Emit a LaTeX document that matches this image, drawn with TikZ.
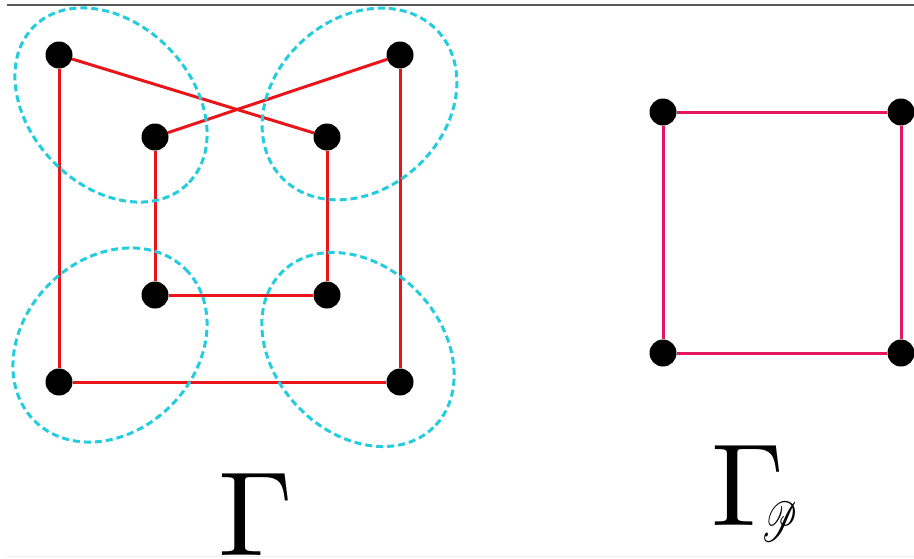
\documentclass[tikz,border=0pt]{standalone}
\usepackage{mathrsfs}
\usepackage{graphicx}
\pgfdeclarelayer{background}
\pgfsetlayers{background,main}
\definecolor{edgered}{RGB}{232,22,26}
\definecolor{ringcyan}{RGB}{35,205,222}
\definecolor{sqpink}{RGB}{226,24,96}
\tikzset{
  vtx/.style={circle,fill=black,inner sep=0pt,minimum size=27pt},
  redge/.style={draw=edgered,line width=3pt},
  pedge/.style={draw=sqpink,line width=3pt},
  ring/.style={draw=ringcyan,line width=3pt,dash pattern=on 7pt off 4pt},
  biglabel/.style={inner sep=0pt,outer sep=0pt}
}
\begin{document}
\begin{tikzpicture}[x=1pt,y=-1pt]
\useasboundingbox (0,0) rectangle (914,558);
% frame line at top
\draw[gray!70!black,line width=1.5pt] (7,5) -- (914,5);
\draw[gray!12,line width=1pt] (7,556) -- (914,556);
% left graph vertices
\node[vtx] (A) at (59,55) {};
\node[vtx] (B) at (400,55) {};
\node[vtx] (C) at (155,137) {};
\node[vtx] (D) at (327,137) {};
\node[vtx] (E) at (155,295) {};
\node[vtx] (F) at (327,295) {};
\node[vtx] (G) at (59,382) {};
\node[vtx] (H) at (400,382) {};
% right square vertices
\node[vtx] (P1) at (663,112) {};
\node[vtx] (P2) at (901,112) {};
\node[vtx] (P3) at (663,353) {};
\node[vtx] (P4) at (901,353) {};
\begin{pgfonlayer}{background}
\draw[redge] (A) -- (D);
\draw[redge] (B) -- (C);
\draw[redge] (A) -- (G);
\draw[redge] (B) -- (H);
\draw[redge] (C) -- (E);
\draw[redge] (D) -- (F);
\draw[redge] (E) -- (F);
\draw[redge] (G) -- (H);
\draw[pedge] (P1) -- (P2);
\draw[pedge] (P2) -- (P4);
\draw[pedge] (P4) -- (P3);
\draw[pedge] (P3) -- (P1);
% dashed rings
\draw[ring, rotate around={-46:(111,105)}] (111,105) ellipse [x radius=110, y radius=81];
\draw[ring, rotate around={43:(359.5,104)}] (359.5,104) ellipse [x radius=107, y radius=85];
\draw[ring, rotate around={45:(110,345)}] (110,345) ellipse [x radius=107, y radius=86];
\draw[ring, rotate around={-46:(358,349.5)}] (358,349.5) ellipse [x radius=108.5, y radius=83];
\end{pgfonlayer}
% labels
\node[biglabel,anchor=base] (L1) at (256,555) {\scalebox{12}{$\Gamma$}};
\node[biglabel,anchor=base] (L2) at (748,525) {\scalebox{11.7}{$\Gamma$}};
\node[biglabel,anchor=center] (L3) at (780,522) {\scalebox{3.3}[5.6]{$\mathscr{P}$}};
\end{tikzpicture}
\end{document}
